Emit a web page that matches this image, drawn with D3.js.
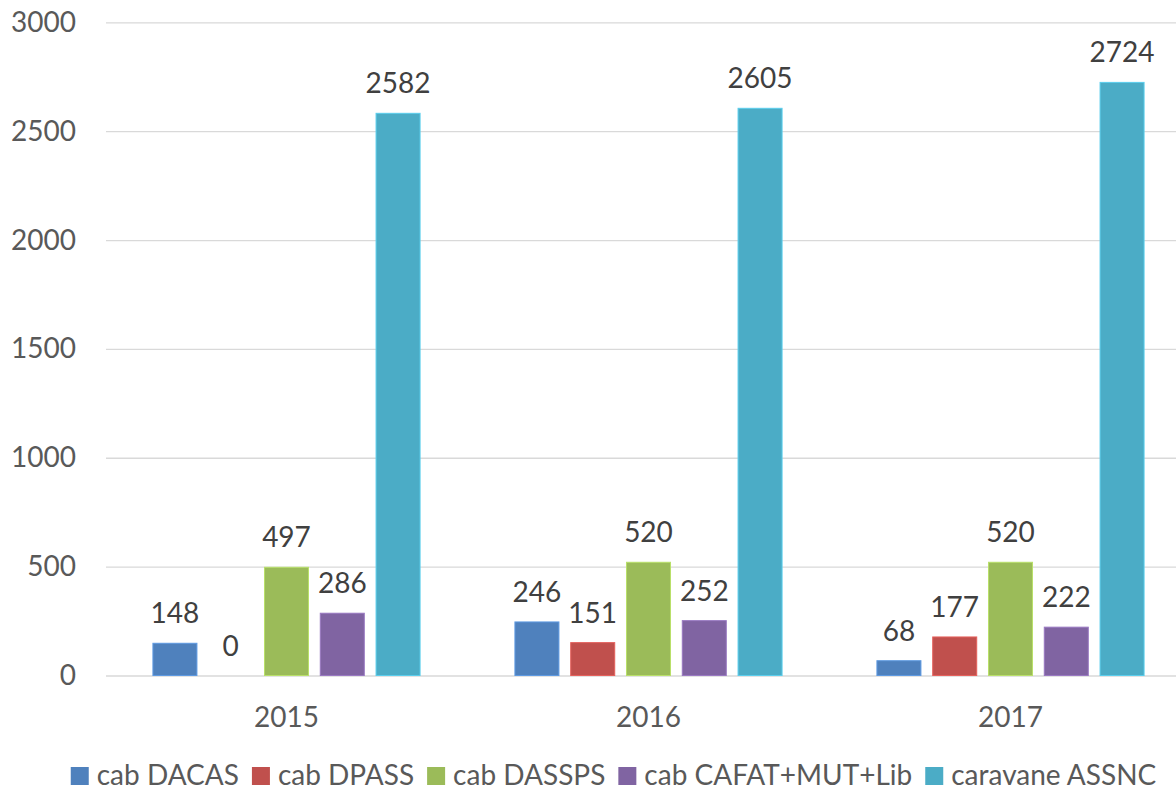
<!DOCTYPE html>
<html>
<head>
<meta charset="utf-8">
<script src="https://cdn.jsdelivr.net/npm/d3@7"></script>
<style>
  html, body { margin: 0; padding: 0; background: #fff; }
  svg { display: block; }
  text { font-family: "Lato", "Open Sans", sans-serif; }
</style>
</head>
<body>
<svg id="chart" width="1176" height="792"></svg>
<script>
const years = ["2015", "2016", "2017"];
const seriesNames = ["cab DACAS", "cab DPASS", "cab DASSPS", "cab CAFAT+MUT+Lib", "caravane ASSNC"];
const seriesColors = ["#4F81BD", "#C0504D", "#9BBB59", "#8064A2", "#4BACC6"];
const cabDACAS = [148, 246, 68];
const cabDPASS = [0, 151, 177];
const cabDASSPS = [497, 520, 520];
const cabCAFAT = [286, 252, 222];
const caravaneASSNC = [2582, 2605, 2724];
const yTicks = [0, 500, 1000, 1500, 2000, 2500, 3000];

const seriesValues = [cabDACAS, cabDPASS, cabDASSPS, cabCAFAT, caravaneASSNC];

const FONT = 28;
const svg = d3.select("#chart");

const x0 = d3.scaleBand().domain(years).range([105.5, 1191.5])
  .paddingInner(0.262).paddingOuter(0.131);
const x1 = d3.scaleBand().domain(seriesNames).range([0, x0.bandwidth()])
  .paddingInner(0.211);
const y = d3.scaleLinear().domain([0, 3000]).range([675.5, 22.3]);

// y axis labels + gridlines
const yAxis = d3.axisLeft(y).tickValues(yTicks).tickSize(0).tickPadding(30)
  .tickFormat(d3.format("d"));
const gAxis = svg.append("g").attr("transform", "translate(106,0)").call(yAxis);
gAxis.select(".domain").remove();
gAxis.selectAll(".tick text")
  .attr("fill", "#595959").style("font-size", FONT + "px")
  .style("font-family", "Lato, 'Open Sans', sans-serif");
gAxis.selectAll(".tick line").remove();
gAxis.selectAll(".tick").append("line")
  .attr("x1", 0).attr("x2", 1176).attr("stroke", "#D9D9D9").attr("stroke-width", 1.3);

// bars
const groups = svg.append("g").selectAll("g").data(years).join("g")
  .attr("transform", d => `translate(${x0(d)},0)`);

groups.each(function(yr, i) {
  const g = d3.select(this);
  const rows = seriesNames.map((s, k) => ({ s, k, v: seriesValues[k][i] }));
  g.selectAll("rect").data(rows).join("rect")
    .attr("x", d => x1(d.s))
    .attr("width", x1.bandwidth())
    .attr("y", d => y(d.v))
    .attr("height", d => y(0) - y(d.v))
    .attr("fill", d => seriesColors[d.k])
    .attr("stroke", d => d.v > 0 ? d3.color(seriesColors[d.k]).brighter(0.5) : "none")
    .attr("stroke-width", 1);
  g.selectAll("text.lbl").data(rows).join("text")
    .attr("class", "lbl")
    .attr("x", d => x1(d.s) + x1.bandwidth() / 2)
    .attr("y", d => y(d.v) - 20)
    .attr("text-anchor", "middle")
    .attr("fill", "#404040")
    .style("font-size", FONT + "px")
    .text(d => d.v);
});

// x axis labels
const xAxis = d3.axisBottom(x0).tickSize(0).tickPadding(0);
const gx = svg.append("g").call(xAxis);
gx.select(".domain").remove();
gx.selectAll(".tick text")
  .attr("y", 727).attr("dy", null)
  .attr("fill", "#595959").style("font-size", FONT + "px")
  .style("font-family", "Lato, 'Open Sans', sans-serif");

// legend
const legend = svg.append("g");
let cx = 0;
const items = legend.selectAll("g").data(seriesNames).join("g");
items.append("rect").attr("width", 18).attr("height", 18).attr("y", 767)
  .attr("fill", (d, k) => seriesColors[k]);
items.append("text").attr("x", 26).attr("y", 785)
  .attr("fill", "#595959").style("font-size", FONT + "px").text(d => d);
items.each(function() {
  const g = d3.select(this);
  g.attr("transform", `translate(${cx},0)`);
  cx += 26 + g.select("text").node().getComputedTextLength() + 13;
});
const total = cx - 13;
legend.attr("transform", `translate(${613.5 - total / 2},0)`);
</script>
</body>
</html>
